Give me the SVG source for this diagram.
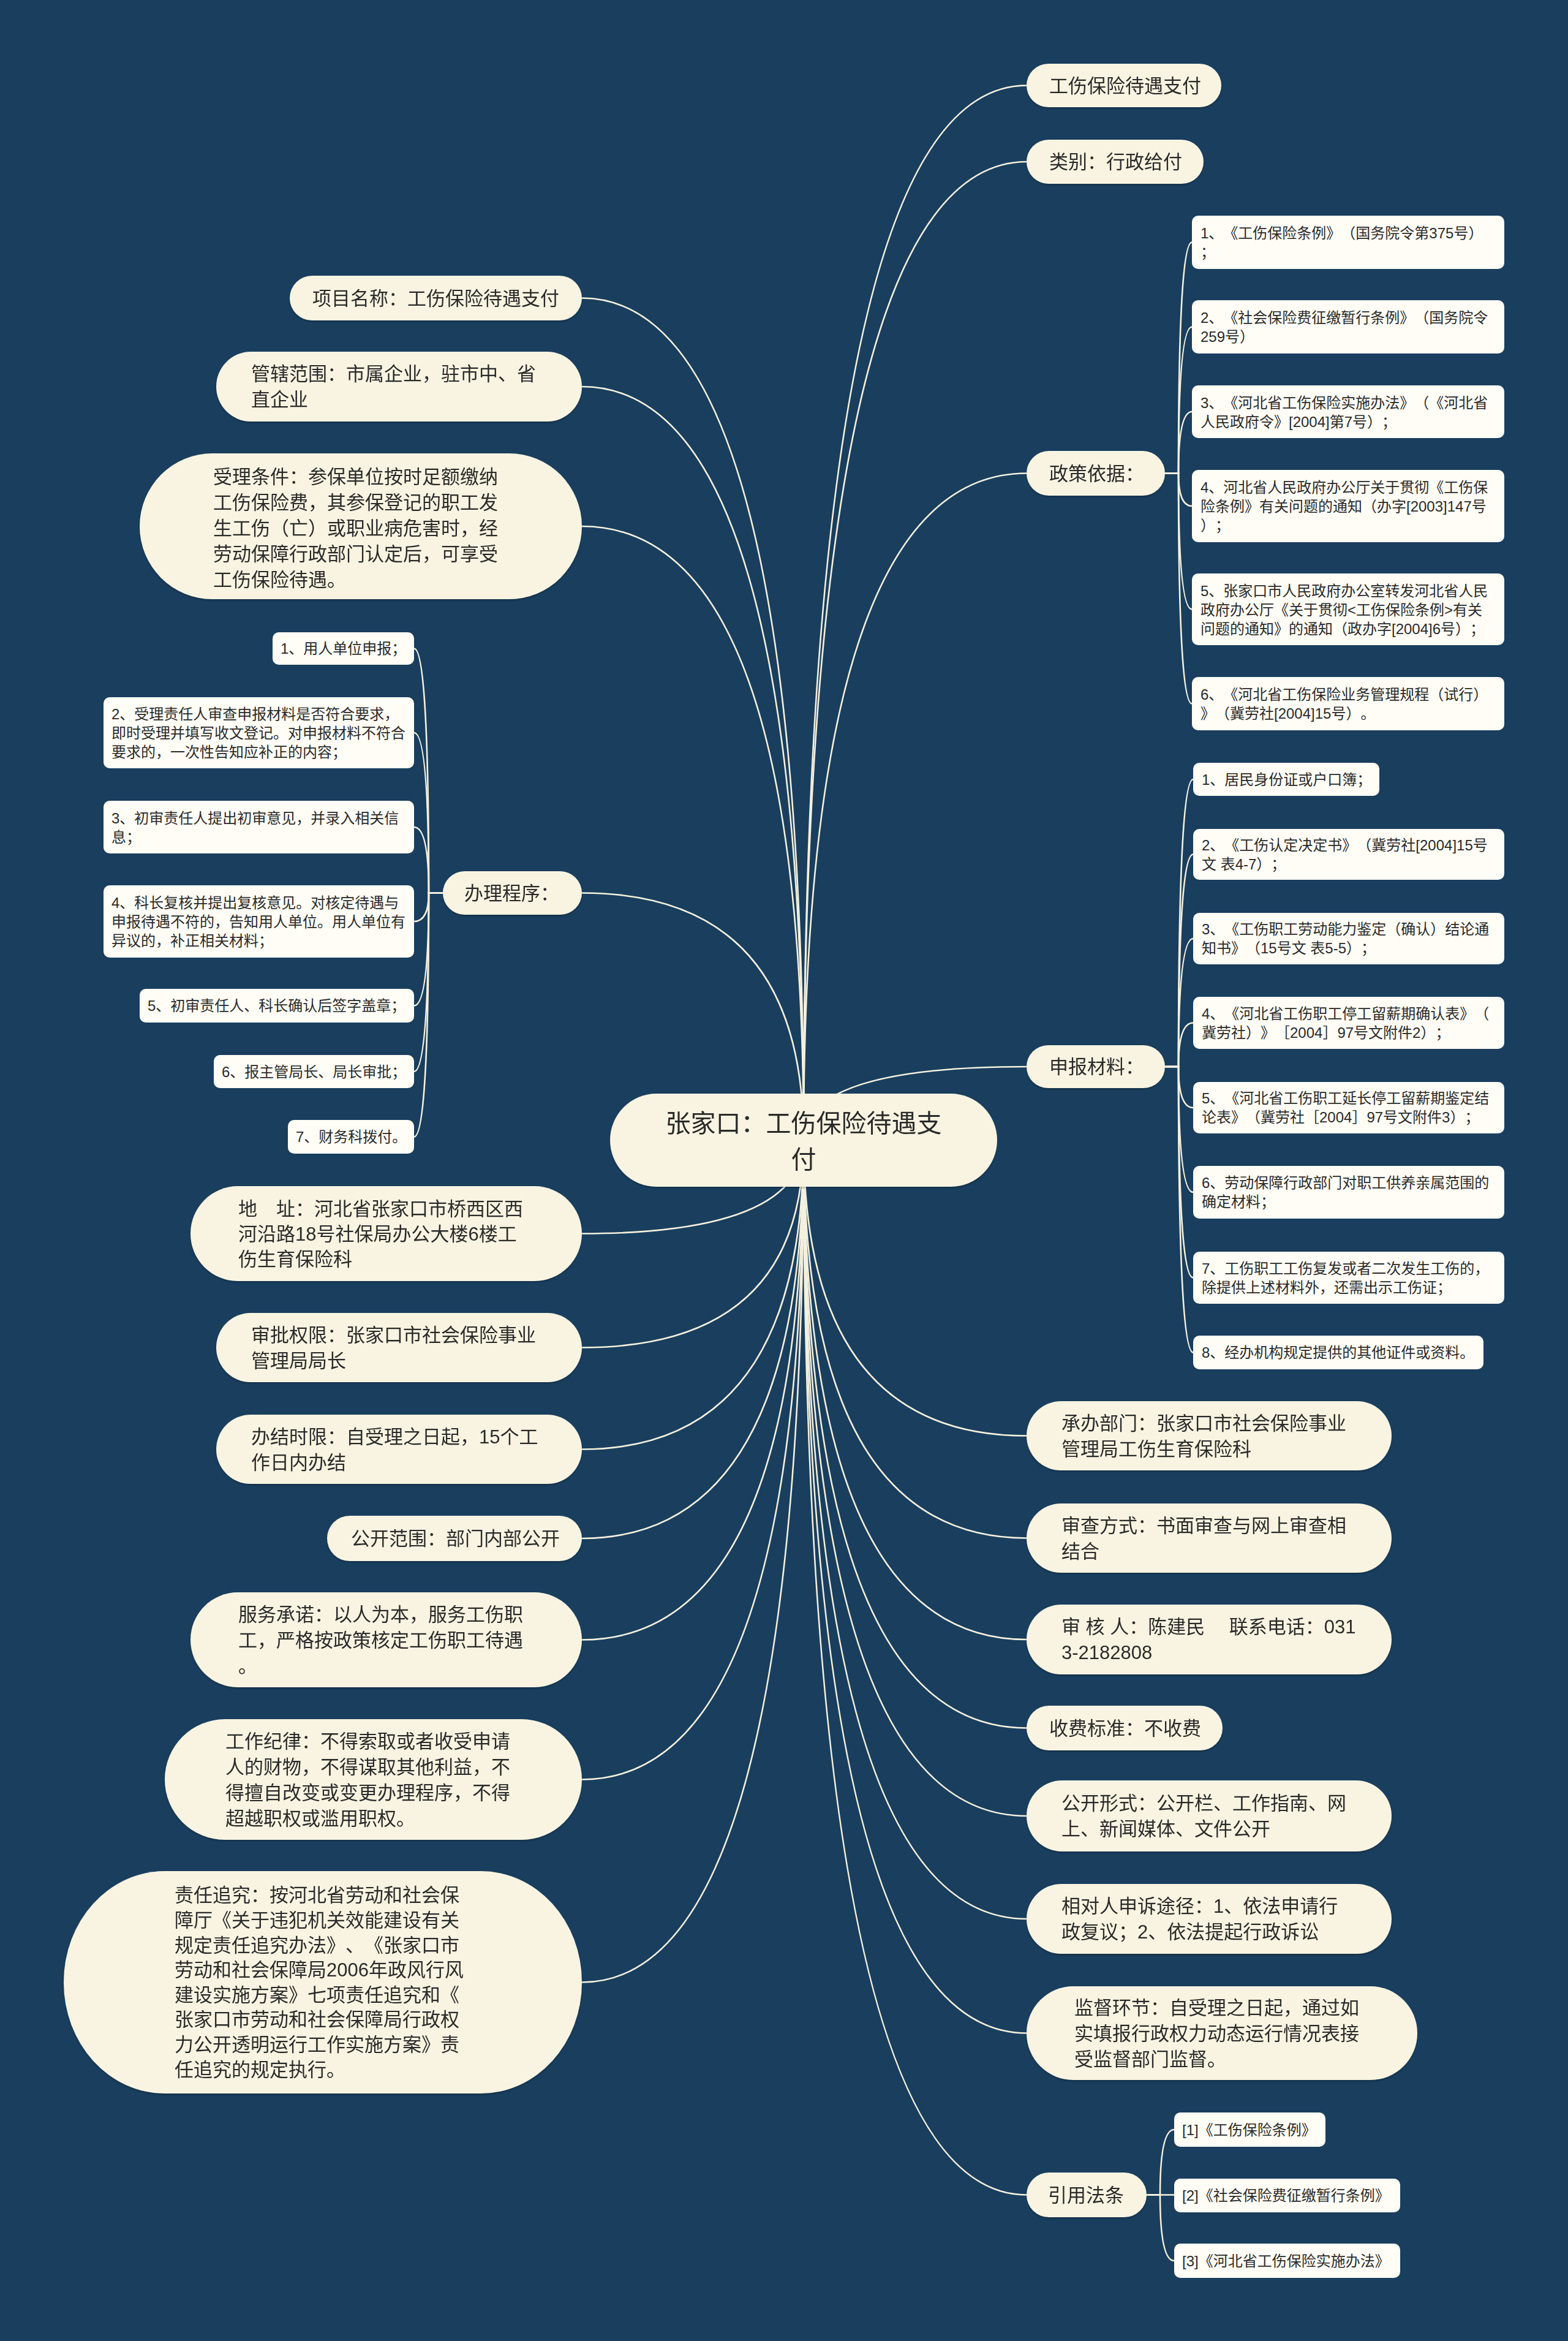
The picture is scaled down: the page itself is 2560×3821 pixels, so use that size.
<svg xmlns="http://www.w3.org/2000/svg" width="2560" height="3821" viewBox="0 0 2560 3821">
<defs>
<style>
.t{font-family:"Liberation Sans","Noto Sans CJK SC",sans-serif;fill:#2a2a2a;text-spacing-trim:space-all}
.tc{font-size:41px}
.t1{font-size:31px}
.tl{font-size:24px}
.main{fill:#f8f4e1}
.n1{fill:#f8f4e1}
.leaf{fill:#fffdf5}
.conn path{fill:none;stroke:#f4f0de;stroke-width:2.6;stroke-linecap:round}
</style>
<filter id="sh" x="-5%" y="-10%" width="110%" height="125%">
<feDropShadow dx="0" dy="2" stdDeviation="1.5" flood-color="#000" flood-opacity="0.25"/>
</filter>
</defs>
<rect width="2560" height="3821" fill="#193e5e"/>

<g class="conn" id="connectors">
<path d="M1312 1861 Q1312 139.5 1676 139.5"/>
<path d="M1312 1861 Q1312 264 1676 264"/>
<path d="M1312 1861 Q1312 772.5 1676 772.5"/>
<path d="M1312 1861 Q1312 1741 1676 1741"/>
<path d="M1312 1861 Q1312 2343.5 1676 2343.5"/>
<path d="M1312 1861 Q1312 2510.5 1676 2510.5"/>
<path d="M1312 1861 Q1312 2676 1676 2676"/>
<path d="M1312 1861 Q1312 2820.5 1676 2820.5"/>
<path d="M1312 1861 Q1312 2964 1676 2964"/>
<path d="M1312 1861 Q1312 3132 1676 3132"/>
<path d="M1312 1861 Q1312 3318.5 1676 3318.5"/>
<path d="M1312 1861 Q1312 3582.5 1676 3582.5"/>
<path d="M1312 1861 Q1312 486.5 950 486.5"/>
<path d="M1312 1861 Q1312 631 950 631"/>
<path d="M1312 1861 Q1312 859 950 859"/>
<path d="M1312 1861 Q1312 1457.5 950 1457.5"/>
<path d="M1312 1861 Q1312 2013.5 950 2013.5"/>
<path d="M1312 1861 Q1312 2199.5 950 2199.5"/>
<path d="M1312 1861 Q1312 2365.5 950 2365.5"/>
<path d="M1312 1861 Q1312 2511 950 2511"/>
<path d="M1312 1861 Q1312 2676.5 950 2676.5"/>
<path d="M1312 1861 Q1312 2904.5 950 2904.5"/>
<path d="M1312 1861 Q1312 3235.5 950 3235.5"/>
<path d="M1902 772.5 L1924 772.5 Q1924 395.5 1946 395.5"/>
<path d="M1902 772.5 L1924 772.5 Q1924 533.5 1946 533.5"/>
<path d="M1902 772.5 L1924 772.5 Q1924 672 1946 672"/>
<path d="M1902 772.5 L1924 772.5 Q1924 826 1946 826"/>
<path d="M1902 772.5 L1924 772.5 Q1924 994.5 1946 994.5"/>
<path d="M1902 772.5 L1924 772.5 Q1924 1148.5 1946 1148.5"/>
<path d="M1902 1741 L1924 1741 Q1924 1272 1948 1272"/>
<path d="M1902 1741 L1924 1741 Q1924 1394.5 1948 1394.5"/>
<path d="M1902 1741 L1924 1741 Q1924 1532 1948 1532"/>
<path d="M1902 1741 L1924 1741 Q1924 1669.5 1948 1669.5"/>
<path d="M1902 1741 L1924 1741 Q1924 1808 1948 1808"/>
<path d="M1902 1741 L1924 1741 Q1924 1946 1948 1946"/>
<path d="M1902 1741 L1924 1741 Q1924 2085.5 1948 2085.5"/>
<path d="M1902 1741 L1924 1741 Q1924 2207.5 1948 2207.5"/>
<path d="M723 1457.5 L700 1457.5 Q700 1058.5 676 1058.5"/>
<path d="M723 1457.5 L700 1457.5 Q700 1196 676 1196"/>
<path d="M723 1457.5 L700 1457.5 Q700 1350 676 1350"/>
<path d="M723 1457.5 L700 1457.5 Q700 1504 676 1504"/>
<path d="M723 1457.5 L700 1457.5 Q700 1641.5 676 1641.5"/>
<path d="M723 1457.5 L700 1457.5 Q700 1749 676 1749"/>
<path d="M723 1457.5 L700 1457.5 Q700 1855.5 676 1855.5"/>
<path d="M1872 3582.5 L1894 3582.5 Q1894 3476 1917 3476"/>
<path d="M1872 3582.5 L1917 3582.5"/>
<path d="M1872 3582.5 L1894 3582.5 Q1894 3690 1917 3690"/>
</g>

<g id="center" filter="url(#sh)">
<rect class="main" x="996" y="1785" width="632" height="152" rx="76"/>
<text class="t tc" text-anchor="middle"><tspan x="1312" y="1848">张家口：工伤保险待遇支</tspan><tspan x="1312" y="1907">付</tspan></text>
</g>

<g id="n-r1" filter="url(#sh)"><rect class="n1" x="1676" y="104" width="318" height="71" rx="35.5"/><text class="t t1" x="1713" y="150.5">工伤保险待遇支付</text></g>
<g id="n-r2" filter="url(#sh)"><rect class="n1" x="1676" y="228" width="289" height="72" rx="36"/><text class="t t1" x="1713" y="275">类别：行政给付</text></g>
<g id="n-r3" filter="url(#sh)"><rect class="n1" x="1676" y="736" width="226" height="73" rx="36.5"/><text class="t t1" x="1713" y="783.5">政策依据：</text></g>
<g id="n-r4" filter="url(#sh)"><rect class="n1" x="1676" y="1706" width="226" height="70" rx="35"/><text class="t t1" x="1713" y="1752">申报材料：</text></g>
<g id="n-r5" filter="url(#sh)"><rect class="n1" x="1676" y="2287" width="596" height="113" rx="56.5"/><text class="t t1"><tspan x="1733" y="2334">承办部门：张家口市社会保险事业</tspan><tspan x="1733" y="2376">管理局工伤生育保险科</tspan></text></g>
<g id="n-r6" filter="url(#sh)"><rect class="n1" x="1676" y="2454" width="596" height="113" rx="56.5"/><text class="t t1"><tspan x="1733" y="2501">审查方式：书面审查与网上审查相</tspan><tspan x="1733" y="2543">结合</tspan></text></g>
<g id="n-r7" filter="url(#sh)"><rect class="n1" x="1676" y="2619" width="596" height="114" rx="57"/><text class="t t1"><tspan x="1733" y="2666">审 核 人：陈建民　 联系电话：031</tspan><tspan x="1733" y="2708">3-2182808</tspan></text></g>
<g id="n-r8" filter="url(#sh)"><rect class="n1" x="1676" y="2784" width="320" height="73" rx="36.5"/><text class="t t1" x="1713" y="2831.5">收费标准：不收费</text></g>
<g id="n-r9" filter="url(#sh)"><rect class="n1" x="1676" y="2906" width="596" height="116" rx="58"/><text class="t t1"><tspan x="1733" y="2954">公开形式：公开栏、工作指南、网</tspan><tspan x="1733" y="2996">上、新闻媒体、文件公开</tspan></text></g>
<g id="n-r10" filter="url(#sh)"><rect class="n1" x="1676" y="3075" width="596" height="114" rx="57"/><text class="t t1"><tspan x="1733" y="3122">相对人申诉途径：1、依法申请行</tspan><tspan x="1733" y="3164">政复议；2、依法提起行政诉讼</tspan></text></g>
<g id="n-r11" filter="url(#sh)"><rect class="n1" x="1676" y="3242" width="638" height="153" rx="76.5"/><text class="t t1"><tspan x="1754" y="3288">监督环节：自受理之日起，通过如</tspan><tspan x="1754" y="3330">实填报行政权力动态运行情况表接</tspan><tspan x="1754" y="3372">受监督部门监督。</tspan></text></g>
<g id="n-r12" filter="url(#sh)"><rect class="n1" x="1676" y="3546" width="196" height="73" rx="36.5"/><text class="t t1" x="1711" y="3593.5">引用法条</text></g>

<g id="p1"><rect class="leaf" x="1946" y="352" width="510" height="87" rx="10"/><text class="t tl"><tspan x="1960" y="389">1、《工伤保险条例》（国务院令第375号）</tspan><tspan x="1960" y="420">；</tspan></text></g>
<g id="p2"><rect class="leaf" x="1946" y="490" width="510" height="87" rx="10"/><text class="t tl"><tspan x="1960" y="527">2、《社会保险费征缴暂行条例》（国务院令</tspan><tspan x="1960" y="558">259号）</tspan></text></g>
<g id="p3"><rect class="leaf" x="1946" y="629" width="510" height="86" rx="10"/><text class="t tl"><tspan x="1960" y="666">3、《河北省工伤保险实施办法》（《河北省</tspan><tspan x="1960" y="697">人民政府令》[2004]第7号）；</tspan></text></g>
<g id="p4"><rect class="leaf" x="1946" y="767" width="510" height="118" rx="10"/><text class="t tl"><tspan x="1960" y="804">4、河北省人民政府办公厅关于贯彻《工伤保</tspan><tspan x="1960" y="835">险条例》有关问题的通知（办字[2003]147号</tspan><tspan x="1960" y="866">）；</tspan></text></g>
<g id="p5"><rect class="leaf" x="1946" y="936" width="510" height="117" rx="10"/><text class="t tl"><tspan x="1960" y="973">5、张家口市人民政府办公室转发河北省人民</tspan><tspan x="1960" y="1004">政府办公厅《关于贯彻&lt;工伤保险条例&gt;有关</tspan><tspan x="1960" y="1035">问题的通知》的通知（政办字[2004]6号）；</tspan></text></g>
<g id="p6"><rect class="leaf" x="1946" y="1105" width="510" height="87" rx="10"/><text class="t tl"><tspan x="1960" y="1142">6、《河北省工伤保险业务管理规程（试行）</tspan><tspan x="1960" y="1173">》（冀劳社[2004]15号）。</tspan></text></g>

<g id="m1"><rect class="leaf" x="1948" y="1245" width="304" height="54" rx="10"/><text class="t tl" x="1962" y="1281">1、居民身份证或户口簿；</text></g>
<g id="m2"><rect class="leaf" x="1948" y="1353" width="508" height="83" rx="10"/><text class="t tl"><tspan x="1962" y="1388">2、《工伤认定决定书》（冀劳社[2004]15号</tspan><tspan x="1962" y="1419">文 表4-7）；</tspan></text></g>
<g id="m3"><rect class="leaf" x="1948" y="1490" width="508" height="84" rx="10"/><text class="t tl"><tspan x="1962" y="1525">3、《工伤职工劳动能力鉴定（确认）结论通</tspan><tspan x="1962" y="1556">知书》（15号文 表5-5）；</tspan></text></g>
<g id="m4"><rect class="leaf" x="1948" y="1627" width="508" height="85" rx="10"/><text class="t tl"><tspan x="1962" y="1663">4、《河北省工伤职工停工留薪期确认表》（</tspan><tspan x="1962" y="1694">冀劳社）》［2004］97号文附件2）；</tspan></text></g>
<g id="m5"><rect class="leaf" x="1948" y="1766" width="508" height="84" rx="10"/><text class="t tl"><tspan x="1962" y="1801">5、《河北省工伤职工延长停工留薪期鉴定结</tspan><tspan x="1962" y="1832">论表》（冀劳社［2004］97号文附件3）；</tspan></text></g>
<g id="m6"><rect class="leaf" x="1948" y="1903" width="508" height="86" rx="10"/><text class="t tl"><tspan x="1962" y="1939">6、劳动保障行政部门对职工供养亲属范围的</tspan><tspan x="1962" y="1970">确定材料；</tspan></text></g>
<g id="m7"><rect class="leaf" x="1948" y="2043" width="508" height="85" rx="10"/><text class="t tl"><tspan x="1962" y="2079">7、工伤职工工伤复发或者二次发生工伤的，</tspan><tspan x="1962" y="2110">除提供上述材料外，还需出示工伤证；</tspan></text></g>
<g id="m8"><rect class="leaf" x="1948" y="2180" width="474" height="55" rx="10"/><text class="t tl" x="1962" y="2216">8、经办机构规定提供的其他证件或资料。</text></g>

<g id="r1"><rect class="leaf" x="1917" y="3448" width="247" height="56" rx="10"/><text class="t tl" x="1930" y="3485">[1]《工伤保险条例》</text></g>
<g id="r2"><rect class="leaf" x="1917" y="3556" width="369" height="55" rx="10"/><text class="t tl" x="1930" y="3592">[2]《社会保险费征缴暂行条例》</text></g>
<g id="r3"><rect class="leaf" x="1917" y="3662" width="369" height="56" rx="10"/><text class="t tl" x="1930" y="3699">[3]《河北省工伤保险实施办法》</text></g>

<g id="n-l1" filter="url(#sh)"><rect class="n1" x="473" y="450" width="477" height="73" rx="36.5"/><text class="t t1" x="510" y="497.5">项目名称：工伤保险待遇支付</text></g>
<g id="n-l2" filter="url(#sh)"><rect class="n1" x="353" y="574" width="597" height="114" rx="57"/><text class="t t1"><tspan x="410" y="621">管辖范围：市属企业，驻市中、省</tspan><tspan x="410" y="663">直企业</tspan></text></g>
<g id="n-l3" filter="url(#sh)"><rect class="n1" x="228" y="740" width="722" height="238" rx="119"/><text class="t t1"><tspan x="348" y="789">受理条件：参保单位按时足额缴纳</tspan><tspan x="348" y="831">工伤保险费，其参保登记的职工发</tspan><tspan x="348" y="873">生工伤（亡）或职业病危害时，经</tspan><tspan x="348" y="915">劳动保障行政部门认定后，可享受</tspan><tspan x="348" y="957">工伤保险待遇。</tspan></text></g>
<g id="n-l4" filter="url(#sh)"><rect class="n1" x="723" y="1422" width="227" height="71" rx="35.5"/><text class="t t1" x="758" y="1468.5">办理程序：</text></g>
<g id="n-l5" filter="url(#sh)"><rect class="n1" x="311" y="1936" width="639" height="155" rx="77.5"/><text class="t t1"><tspan x="389" y="1984">地　址：河北省张家口市桥西区西</tspan><tspan x="389" y="2025">河沿路18号社保局办公大楼6楼工</tspan><tspan x="389" y="2066">伤生育保险科</tspan></text></g>
<g id="n-l6" filter="url(#sh)"><rect class="n1" x="353" y="2143" width="597" height="113" rx="56.5"/><text class="t t1"><tspan x="410" y="2190">审批权限：张家口市社会保险事业</tspan><tspan x="410" y="2232">管理局局长</tspan></text></g>
<g id="n-l7" filter="url(#sh)"><rect class="n1" x="353" y="2309" width="597" height="113" rx="56.5"/><text class="t t1"><tspan x="410" y="2356">办结时限：自受理之日起，15个工</tspan><tspan x="410" y="2398">作日内办结</tspan></text></g>
<g id="n-l8" filter="url(#sh)"><rect class="n1" x="534" y="2474" width="416" height="74" rx="37"/><text class="t t1" x="573" y="2522">公开范围：部门内部公开</text></g>
<g id="n-l9" filter="url(#sh)"><rect class="n1" x="311" y="2599" width="639" height="155" rx="77.5"/><text class="t t1"><tspan x="389" y="2646">服务承诺：以人为本，服务工伤职</tspan><tspan x="389" y="2688">工，严格按政策核定工伤职工待遇</tspan><tspan x="389" y="2730">。</tspan></text></g>
<g id="n-l10" filter="url(#sh)"><rect class="n1" x="269" y="2806" width="681" height="197" rx="98.5"/><text class="t t1"><tspan x="368" y="2853">工作纪律：不得索取或者收受申请</tspan><tspan x="368" y="2895">人的财物，不得谋取其他利益，不</tspan><tspan x="368" y="2937">得擅自改变或变更办理程序，不得</tspan><tspan x="368" y="2979">超越职权或滥用职权。</tspan></text></g>
<g id="n-l11" filter="url(#sh)"><rect class="n1" x="104" y="3054" width="846" height="363" rx="165" ry="181"/><text class="t t1"><tspan x="285" y="3104">责任追究：按河北省劳动和社会保</tspan><tspan x="285" y="3145">障厅《关于违犯机关效能建设有关</tspan><tspan x="285" y="3186">规定责任追究办法》、《张家口市</tspan><tspan x="285" y="3226">劳动和社会保障局2006年政风行风</tspan><tspan x="285" y="3267">建设实施方案》七项责任追究和《</tspan><tspan x="285" y="3307">张家口市劳动和社会保障局行政权</tspan><tspan x="285" y="3348">力公开透明运行工作实施方案》责</tspan><tspan x="285" y="3389">任追究的规定执行。</tspan></text></g>

<g id="s1"><rect class="leaf" x="445" y="1032" width="231" height="53" rx="10"/><text class="t tl" x="458" y="1067">1、用人单位申报；</text></g>
<g id="s2"><rect class="leaf" x="169" y="1138" width="507" height="116" rx="10"/><text class="t tl"><tspan x="182" y="1174">2、受理责任人审查申报材料是否符合要求，</tspan><tspan x="182" y="1205">即时受理并填写收文登记。对申报材料不符合</tspan><tspan x="182" y="1236">要求的，一次性告知应补正的内容；</tspan></text></g>
<g id="s3"><rect class="leaf" x="169" y="1307" width="507" height="86" rx="10"/><text class="t tl"><tspan x="182" y="1344">3、初审责任人提出初审意见，并录入相关信</tspan><tspan x="182" y="1375">息；</tspan></text></g>
<g id="s4"><rect class="leaf" x="169" y="1445" width="507" height="118" rx="10"/><text class="t tl"><tspan x="182" y="1482">4、科长复核并提出复核意见。对核定待遇与</tspan><tspan x="182" y="1513">申报待遇不符的，告知用人单位。用人单位有</tspan><tspan x="182" y="1544">异议的，补正相关材料；</tspan></text></g>
<g id="s5"><rect class="leaf" x="228" y="1614" width="448" height="55" rx="10"/><text class="t tl" x="241" y="1650">5、初审责任人、科长确认后签字盖章；</text></g>
<g id="s6"><rect class="leaf" x="349" y="1722" width="327" height="54" rx="10"/><text class="t tl" x="362" y="1758">6、报主管局长、局长审批；</text></g>
<g id="s7"><rect class="leaf" x="470" y="1828" width="206" height="55" rx="10"/><text class="t tl" x="483" y="1864">7、财务科拨付。</text></g>
</svg>
